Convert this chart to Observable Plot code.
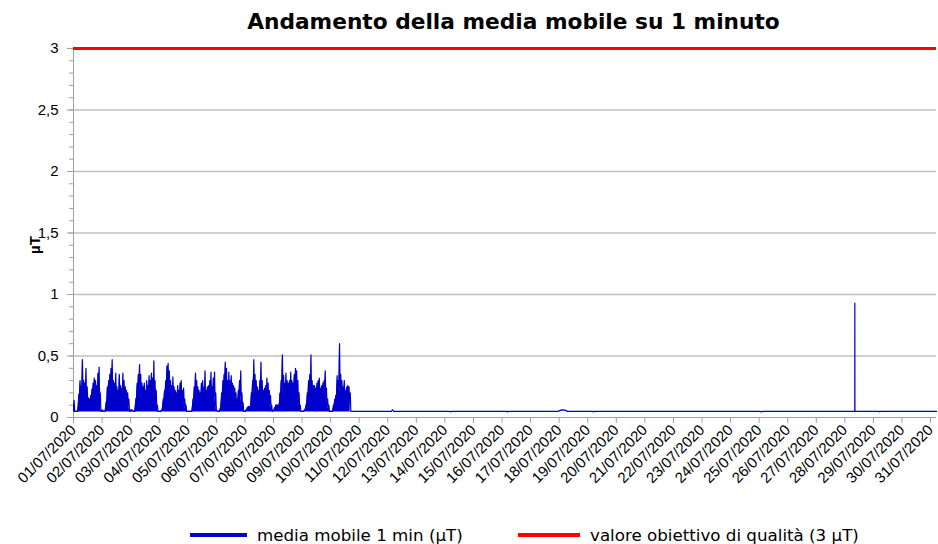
<!DOCTYPE html>
<html><head><meta charset="utf-8">
<script src="https://cdn.jsdelivr.net/npm/d3@7"></script>
<script src="https://cdn.jsdelivr.net/npm/@observablehq/plot@0.6"></script>
<style>
body{margin:0;background:#fff;}
#wrap{position:relative;width:938px;height:544px;overflow:hidden;background:#fff;}
#title{position:absolute;left:513.5px;top:8px;transform:translateX(-50%);white-space:nowrap;font-family:"DejaVu Sans",sans-serif;font-weight:bold;font-size:21.7px;line-height:27px;color:#000;}
#ylabel{position:absolute;left:35px;top:245px;transform:translate(-50%,-50%) rotate(-90deg);white-space:nowrap;font-family:"Liberation Sans",Arial,sans-serif;font-weight:bold;font-size:15px;line-height:16px;color:#000;}
#chart{position:absolute;left:0;top:40px;}
.lg-line{position:absolute;height:4px;top:533px;}
.lg-text{position:absolute;top:524px;line-height:22px;font-family:"DejaVu Sans",sans-serif;font-size:16.7px;color:#000;white-space:nowrap;}
</style></head><body>
<div id="wrap">
<div id="title">Andamento della media mobile su 1 minuto</div>
<div id="chart"></div>
<div id="ylabel"></div>
<div class="lg-line" style="left:190px;width:57px;background:#0000cc"></div>
<div class="lg-text" style="left:257px" id="lg1"></div>
<div class="lg-line" style="left:518px;width:62px;background:#ff0000"></div>
<div class="lg-text" style="left:590px" id="lg2"></div>
</div>
<script>
// ---- data ----
const tickLabels = ["01/07/2020","02/07/2020","03/07/2020","04/07/2020","05/07/2020","06/07/2020","07/07/2020","08/07/2020","09/07/2020","10/07/2020","11/07/2020","12/07/2020","13/07/2020","14/07/2020","15/07/2020","16/07/2020","17/07/2020","18/07/2020","19/07/2020","20/07/2020","21/07/2020","22/07/2020","23/07/2020","24/07/2020","25/07/2020","26/07/2020","27/07/2020","28/07/2020","29/07/2020","30/07/2020","31/07/2020"];
const yTicks = [0, 0.5, 1, 1.5, 2, 2.5, 3];
const yLabel = "µT";
const seriesNames = ["media mobile 1 min (µT)", "valore obiettivo di qualità (3 µT)"];
const target = 3;
const activityFloor = 0.045;
const endTime = "2020-07-31T05:00";
// hourly peak values of the 1-minute moving average (µT), hours 0..23
const day01 = [0.14,0.05,0.05,0.05,0.19,0.3,0.25,0.47,0.3,0.28,0.4,0.25,0.16,0.15,0.18,0.23,0.28,0.32,0.3,0.26,0.36,0.41,0.2,0.06];
const day02 = [0.06,0.05,0.05,0.12,0.25,0.3,0.35,0.4,0.47,0.3,0.28,0.36,0.25,0.22,0.35,0.26,0.24,0.36,0.3,0.25,0.22,0.2,0.15,0.05];
const day03 = [0.06,0.06,0.05,0.05,0.15,0.28,0.35,0.43,0.35,0.28,0.25,0.28,0.22,0.3,0.26,0.34,0.3,0.36,0.32,0.46,0.3,0.22,0.1,0.05];
const day04 = [0.05,0.05,0.06,0.15,0.22,0.3,0.42,0.44,0.38,0.3,0.26,0.33,0.25,0.22,0.2,0.26,0.22,0.28,0.3,0.22,0.24,0.15,0.1,0.05];
const day05 = [0.05,0.05,0.05,0.05,0.15,0.25,0.36,0.3,0.25,0.22,0.2,0.28,0.3,0.25,0.38,0.22,0.25,0.26,0.3,0.37,0.25,0.32,0.37,0.2];
const day06 = [0.06,0.05,0.05,0.08,0.2,0.3,0.35,0.45,0.4,0.3,0.37,0.3,0.34,0.28,0.26,0.24,0.2,0.15,0.22,0.3,0.38,0.2,0.12,0.05];
const day07 = [0.05,0.06,0.08,0.09,0.08,0.2,0.3,0.47,0.35,0.3,0.25,0.22,0.3,0.45,0.3,0.22,0.24,0.26,0.32,0.28,0.22,0.18,0.1,0.05];
const day08 = [0.06,0.08,0.1,0.1,0.09,0.2,0.3,0.51,0.34,0.28,0.36,0.3,0.28,0.3,0.37,0.3,0.28,0.35,0.4,0.38,0.3,0.2,0.1,0.05];
const day09 = [0.05,0.05,0.06,0.1,0.2,0.3,0.35,0.51,0.3,0.26,0.26,0.24,0.28,0.3,0.32,0.24,0.26,0.28,0.3,0.38,0.24,0.15,0.1,0.05];
const day10 = [0.05,0.05,0.1,0.15,0.18,0.34,0.3,0.6,0.35,0.3,0.25,0.3,0.22,0.25,0.26,0.25,0.2];
// hourly typical (body) level between the peaks (µT)
const day01body = [0.06,0.05,0.05,0.05,0.1,0.18,0.2,0.22,0.2,0.18,0.17,0.14,0.12,0.12,0.13,0.15,0.18,0.2,0.2,0.19,0.2,0.18,0.12,0.05];
const day02body = [0.05,0.05,0.05,0.08,0.14,0.18,0.2,0.22,0.22,0.18,0.17,0.18,0.15,0.14,0.16,0.15,0.15,0.18,0.17,0.15,0.13,0.12,0.1,0.05];
const day03body = [0.06,0.06,0.05,0.05,0.1,0.16,0.2,0.24,0.2,0.16,0.15,0.15,0.13,0.15,0.15,0.17,0.17,0.18,0.18,0.2,0.16,0.12,0.07,0.05];
const day04body = [0.05,0.05,0.06,0.1,0.14,0.2,0.26,0.28,0.24,0.18,0.16,0.18,0.14,0.13,0.12,0.14,0.13,0.15,0.16,0.13,0.13,0.1,0.07,0.05];
const day05body = [0.05,0.05,0.05,0.05,0.1,0.15,0.2,0.18,0.15,0.13,0.12,0.15,0.16,0.14,0.18,0.13,0.14,0.15,0.16,0.18,0.14,0.16,0.18,0.1];
const day06body = [0.06,0.05,0.05,0.06,0.12,0.18,0.2,0.25,0.22,0.18,0.2,0.17,0.18,0.15,0.14,0.13,0.12,0.1,0.12,0.16,0.18,0.12,0.08,0.05];
const day07body = [0.05,0.06,0.08,0.09,0.08,0.12,0.18,0.25,0.2,0.17,0.14,0.13,0.16,0.22,0.16,0.13,0.14,0.15,0.17,0.15,0.13,0.11,0.07,0.05];
const day08body = [0.06,0.08,0.1,0.1,0.09,0.12,0.18,0.26,0.2,0.16,0.2,0.17,0.16,0.17,0.2,0.17,0.16,0.19,0.22,0.2,0.17,0.12,0.07,0.05];
const day09body = [0.05,0.05,0.06,0.08,0.12,0.17,0.2,0.25,0.17,0.15,0.15,0.14,0.16,0.17,0.18,0.14,0.15,0.16,0.17,0.2,0.14,0.1,0.07,0.05];
const day10body = [0.05,0.05,0.07,0.1,0.12,0.18,0.18,0.25,0.2,0.17,0.15,0.17,0.13,0.15,0.15,0.15,0.12];
// afterwards: nearly flat signal with a few small events
const lateTimes = ["2020-07-10T17:00","2020-07-12T03:00","2020-07-12T04:00","2020-07-12T05:00","2020-07-14T04:30","2020-07-14T05:00","2020-07-14T05:30","2020-07-16T04:00","2020-07-16T04:30","2020-07-16T05:00","2020-07-17T23:00","2020-07-18T02:00","2020-07-18T05:00","2020-07-18T07:00","2020-07-19T04:30","2020-07-19T05:00","2020-07-19T05:30","2020-07-25T01:00","2020-07-25T02:00","2020-07-25T03:00","2020-07-28T08:20","2020-07-28T08:24","2020-07-28T08:28","2020-07-29T05:00","2020-07-29T05:20","2020-07-29T05:40","2020-07-31T05:00"];
const lateValues = [0.05,0.05,0.063,0.05,0.05,0.045,0.05,0.05,0.045,0.05,0.05,0.062,0.06,0.05,0.05,0.045,0.05,0.05,0.045,0.05,0.05,0.93,0.05,0.05,0.045,0.05,0.05];

// ---- build ----
const dayStarts = tickLabels.map(s => { const [d, m, y] = s.split("/"); return new Date(Date.UTC(+y, +m - 1, +d)); });
const peakDays = [day01, day02, day03, day04, day05, day06, day07, day08, day09, day10];
const bodyDays = [day01body, day02body, day03body, day04body, day05body, day06body, day07body, day08body, day09body, day10body];
const dense = [];
peakDays.forEach((vals, i) => vals.forEach((v, h) => {
  const t0 = dayStarts[i].getTime() + h * 3600e3;
  dense.push({t: new Date(t0), v: bodyDays[i][h]});
  dense.push({t: new Date(t0 + 1800e3), v});
}));
const late = lateTimes.map((s, i) => ({t: new Date(s + ":00Z"), v: lateValues[i]}));
const series = dense.concat(late);
const minorTicks = d3.range(0, 31).map(i => i / 10);
const axisGray = "#a0a0a0";
const blue = "#0000cc";

const chart = Plot.plot({
  width: 938, height: 470,
  marginTop: 8, marginBottom: 93, marginLeft: 73, marginRight: 2,
  style: {fontFamily: "'Liberation Sans', Arial, sans-serif", fontSize: "15px", color: "#000", background: "#fff", overflow: "visible"},
  x: {type: "utc", domain: [dayStarts[0], new Date(endTime + ":00Z")]},
  y: {domain: [0, 3]},
  marks: [
    Plot.ruleY(yTicks.filter(v => v > 0), {stroke: "#c0c0c0", strokeWidth: 1.3}),
    Plot.axisY({ticks: minorTicks, tickSize: 4, tickFormat: () => "", stroke: axisGray, label: null}),
    Plot.axisY({ticks: yTicks, tickSize: 6, tickPadding: 9, tickFormat: v => String(v).replace(".", ","), stroke: axisGray, fill: "#000", label: null}),
    Plot.axisX({ticks: dayStarts, tickSize: 6, tickPadding: 4, tickRotate: -45, tickFormat: (d, i) => tickLabels[i], stroke: axisGray, fill: "#000", label: null}),
    Plot.ruleX([dayStarts[0]], {stroke: axisGray, strokeWidth: 1}),
    Plot.ruleY([0], {stroke: axisGray, strokeWidth: 1}),
    Plot.areaY(dense, {x: "t", y1: activityFloor, y2: "v", fill: blue}),
    Plot.lineY(series, {x: "t", y: "v", stroke: blue, strokeWidth: 1.2}),
    Plot.ruleY([target], {stroke: "#ff0000", strokeWidth: 3})
  ]
});
document.getElementById("chart").appendChild(chart);
document.getElementById("ylabel").textContent = yLabel;
document.getElementById("lg1").textContent = seriesNames[0];
document.getElementById("lg2").textContent = seriesNames[1];
</script>
</body></html>
